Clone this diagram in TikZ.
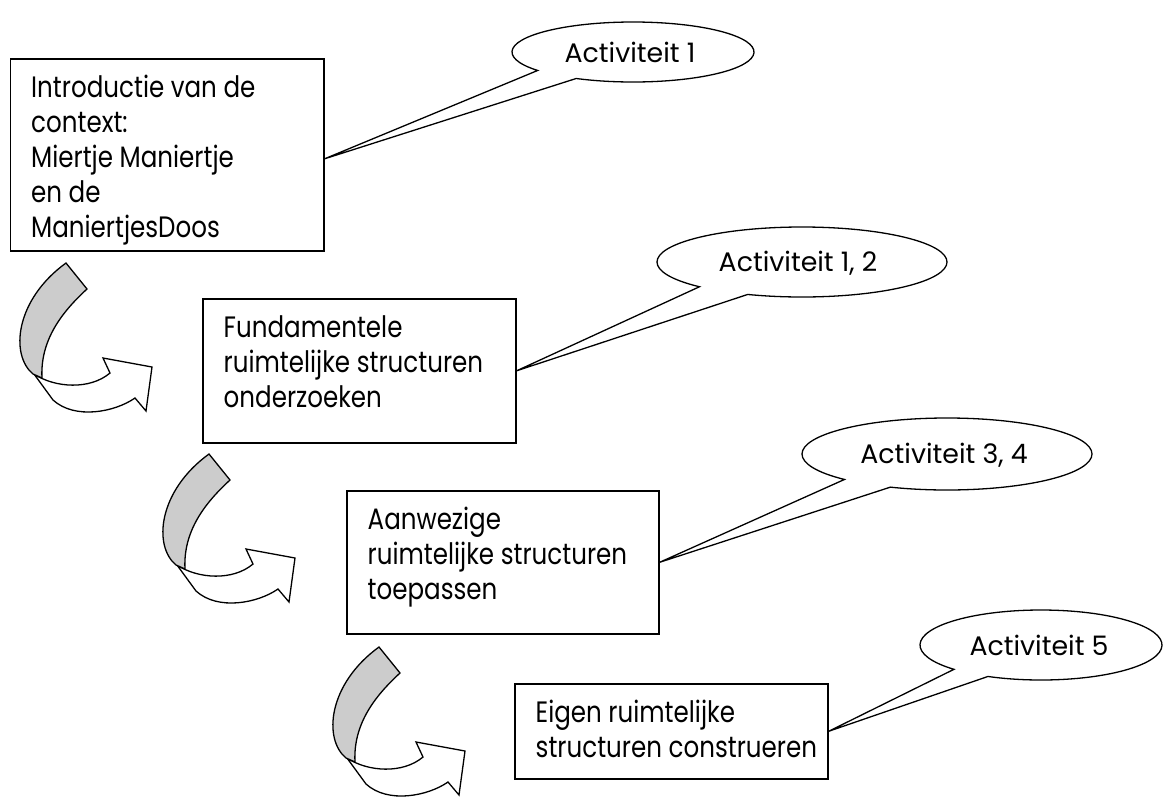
\documentclass[tikz,border=0pt]{standalone}
\usepackage{fontspec}
\setmainfont{Poppins}[FakeStretch=0.833]
\newfontfamily\bubblefont{Poppins}[FakeStretch=1.0]
\usetikzlibrary{shapes.geometric,calc}
\definecolor{ribbongray}{RGB}{204,204,204}
\tikzset{
  twist/.pic={
    \filldraw[fill=white, line width=1.3pt] (34,374) .. controls (55,388) and (90,390) .. (110,373)
      -- (103,358) -- (152,367) -- (146,411) -- (135,398)
      .. controls (115,412) and (75,420) .. (53,400) -- cycle;
    \filldraw[fill=ribbongray, line width=1.3pt] (66,263) -- (87,289)
      .. controls (62,312) and (40,340) .. (42,378) -- (33,374)
      .. controls (10,355) and (15,300) .. (66,263) -- cycle;
  }
}
\begin{document}
\begin{tikzpicture}[x=1pt,y=-1pt,
  box/.style={draw=black, line width=1.6pt, rectangle, anchor=north west, inner sep=0pt},
  boxtext/.style={anchor=north west, inner sep=0pt, align=left,
    font=\fontsize{29.5}{35}\selectfont},
  bubble/.style={ellipse, inner sep=0pt, font=\bubblefont\fontsize{26.8}{30}\selectfont},
  callout/.style={draw=black, line width=1.3pt, line join=miter}]
\fill[white] (0,0) rectangle (1170,796);
\useasboundingbox (0,0) rectangle (1170,796);

% boxes
\node[box, minimum width=313.5pt, minimum height=192pt] (b1) at (9.5,58) {};
\node[box, minimum width=313pt, minimum height=144pt] (b2) at (202,298) {};
\node[box, minimum width=312pt, minimum height=143pt] (b3) at (346,490) {};
\node[box, minimum width=313pt, minimum height=95pt] (b4) at (514,683) {};

% box texts (first baseline 39pt below the top edge)
\node[boxtext] (t1) at ($(b1.north west)+(21.5,14.5)$) {\strut Introductie van de\\context:\\Miertje Maniertje\\en de\\ManiertjesDoos};
\node[boxtext] (t2) at ($(b2.north west)+(21.5,14.5)$) {\strut Fundamentele\\ruimtelijke structuren\\onderzoeken};
\node[boxtext] (t3) at ($(b3.north west)+(21.5,14.5)$) {\strut Aanwezige\\ruimtelijke structuren\\toepassen};
\node[boxtext] (t4) at ($(b4.north west)+(21.5,14.5)$) {\strut Eigen ruimtelijke\\structuren construeren};

% bubbles
\node[bubble] (e1) at (630,52) {Activiteit 1};
\node[bubble] (e2) at (798,263) {Activiteit 1, 2};
\node[bubble] (e3) at (944,455) {Activiteit 3, 4};
\node[bubble] (e4) at (1039,645) {Activiteit 5};

% callout outlines
\draw[callout] ($(b1.east)+(0,4)$) -- ($(633,52)+(142:121 and 30)$)
  arc[start angle=142, end angle=478, x radius=121, y radius=30] -- cycle;
\draw[callout] (b2.east) -- ($(802,262)+(135:145 and 35)$)
  arc[start angle=135, end angle=472, x radius=145, y radius=35] -- cycle;
\draw[callout] (b3.east) -- ($(947,454)+(135:145 and 36)$)
  arc[start angle=135, end angle=473, x radius=145, y radius=36] -- cycle;
\draw[callout] (b4.east) -- ($(1041,645)+(136:121 and 35)$)
  arc[start angle=136, end angle=476, x radius=121, y radius=35] -- cycle;

% twisted curved arrows
\pic at (0,0) {twist};
\pic at (143,191) {twist};
\pic at (313,384) {twist};
\end{tikzpicture}
\end{document}
